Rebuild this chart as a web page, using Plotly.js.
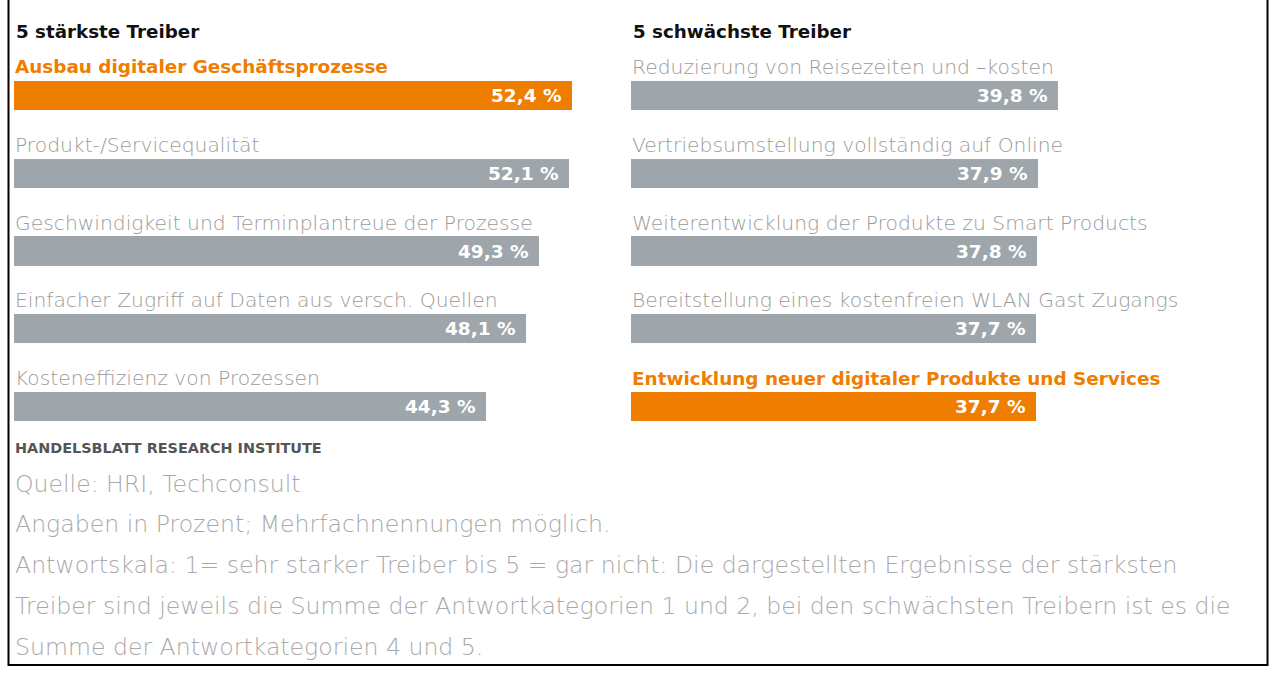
<!DOCTYPE html>
<html>
<head>
<meta charset="utf-8">
<script src="https://cdn.plot.ly/plotly-3.0.1.min.js"></script>
<style>
  html, body { margin: 0; padding: 0; background: #ffffff; }
  #chart { width: 1272px; height: 675px; }
</style>
</head>
<body>
<div id="chart"></div>
<script>
// Strongest drivers (sum of answer categories 1 and 2)
const strongLabels = [
  "Ausbau digitaler Geschäftsprozesse",
  "Produkt-/Servicequalität",
  "Geschwindigkeit und Terminplantreue der Prozesse",
  "Einfacher Zugriff auf Daten aus versch. Quellen",
  "Kosteneffizienz von Prozessen"
];
const strongValues = [52.4, 52.1, 49.3, 48.1, 44.3];

// Weakest drivers (sum of answer categories 4 and 5)
const weakLabels = [
  "Reduzierung von Reisezeiten und –kosten",
  "Vertriebsumstellung vollständig auf Online",
  "Weiterentwicklung der Produkte zu Smart Products",
  "Bereitstellung eines kostenfreien WLAN Gast Zugangs",
  "Entwicklung neuer digitaler Produkte und Services"
];
const weakValues = [39.8, 37.9, 37.8, 37.7, 37.7];

// Highlighted drivers
const strongHighlight = "Ausbau digitaler Geschäftsprozesse";
const weakHighlight = "Entwicklung neuer digitaler Produkte und Services";

const panelTitles = ["5 stärkste Treiber", "5 schwächste Treiber"];
const footerLines = [
  "Quelle: HRI, Techconsult",
  "Angaben in Prozent; Mehrfachnennungen möglich.",
  "Antwortskala: 1= sehr starker Treiber bis 5 = gar nicht: Die dargestellten Ergebnisse der stärksten",
  "Treiber sind jeweils die Summe der Antwortkategorien 1 und 2, bei den schwächsten Treibern ist es die",
  "Summe der Antwortkategorien 4 und 5."
];
const brand = "HANDELSBLATT RESEARCH INSTITUTE";

// ---- styling ----
const W = 1272, H = 675;
const ORANGE = "#ef7d00";
const GREY_BAR = "#9ea6ab";
const LABEL_GREY = "#9b9b9b";
const FOOT_GREY = "#a9a9a9";
const FONT = "'DejaVu Sans', 'Open Sans', sans-serif";
const px = v => v / W;
const py = v => 1 - v / H;
const fmt = v => v.toFixed(1).replace(".", ",") + " %";

// pixels per percentage point in each panel
const xMaxLeft = 600 / 10.65;
const xMaxRight = 600 / 10.74;
const yTop = 56.6, yBottom = 445.4;

function barTrace(labels, values, highlight, xa, ya) {
  return {
    type: "bar",
    orientation: "h",
    x: values,
    y: labels,
    xaxis: xa,
    yaxis: ya,
    width: 0.375,
    marker: { color: labels.map(l => l === highlight ? ORANGE : GREY_BAR), line: { width: 0 } },
    hoverinfo: "skip",
    showlegend: false
  };
}

const data = [
  barTrace(strongLabels, strongValues, strongHighlight, "x", "y"),
  barTrace(weakLabels, weakValues, weakHighlight, "x2", "y2")
];

const annotations = [];

function panelAnnotations(labels, values, highlight, xref, yref) {
  labels.forEach((lab, i) => {
    const hi = lab === highlight;
    annotations.push({
      xref: xref, yref: yref, x: 0, y: lab,
      xanchor: "left", yanchor: "middle", yshift: 28.5, xshift: -1.5,
      text: hi ? "<b>" + lab + "</b>" : lab,
      showarrow: false,
      font: { family: FONT, size: hi ? 18.4 : 20.3, color: hi ? ORANGE : LABEL_GREY, weight: hi ? 700 : 200 }
    });
    annotations.push({
      xref: xref, yref: yref, x: values[i], y: lab,
      xanchor: "right", yanchor: "middle", xshift: -8, yshift: 0,
      text: "<b>" + fmt(values[i]) + "</b>",
      showarrow: false,
      font: { family: FONT, size: 18.5, color: "#ffffff" }
    });
  });
}
panelAnnotations(strongLabels, strongValues, strongHighlight, "x", "y");
panelAnnotations(weakLabels, weakValues, weakHighlight, "x2", "y2");

// panel headings
[[13.5, panelTitles[0]], [630.5, panelTitles[1]]].forEach(([x, t]) => {
  annotations.push({
    xref: "paper", yref: "paper", x: px(x), y: py(31),
    xanchor: "left", yanchor: "middle", showarrow: false,
    text: "<b>" + t + "</b>",
    font: { family: FONT, size: 18.3, color: "#111111" }
  });
});

// brand line
annotations.push({
  xref: "paper", yref: "paper", x: px(13), y: py(448),
  xanchor: "left", yanchor: "middle", showarrow: false,
  text: "<b>" + brand + "</b>",
  font: { family: FONT, size: 14.4, color: "#555555" }
});

// footer notes
const footY = [484, 524, 565, 606, 647];
footerLines.forEach((t, i) => {
  annotations.push({
    xref: "paper", yref: "paper", x: px(13), y: py(footY[i]),
    xanchor: "left", yanchor: "middle", showarrow: false,
    text: t,
    font: { family: FONT, size: 23.6, color: FOOT_GREY, weight: 200 }
  });
});

const yAxisBase = {
  type: "category",
  autorange: false,
  range: [4.5, -0.5],
  showticklabels: false,
  showgrid: false,
  zeroline: false,
  showline: false,
  ticks: "",
  domain: [py(yBottom), py(yTop)],
  fixedrange: true
};
const xAxisBase = {
  showticklabels: false,
  showgrid: false,
  zeroline: false,
  showline: false,
  ticks: "",
  fixedrange: true
};

const layout = {
  width: W,
  height: H,
  margin: { l: 0, r: 0, t: 0, b: 0, pad: 0 },
  paper_bgcolor: "#ffffff",
  plot_bgcolor: "rgba(0,0,0,0)",
  bargap: 0,
  xaxis: Object.assign({}, xAxisBase, { range: [0, xMaxLeft], domain: [px(14), px(614)], anchor: "y" }),
  yaxis: Object.assign({}, yAxisBase, { anchor: "x", categoryarray: strongLabels }),
  xaxis2: Object.assign({}, xAxisBase, { range: [0, xMaxRight], domain: [px(631), px(1231)], anchor: "y2" }),
  yaxis2: Object.assign({}, yAxisBase, { anchor: "x2", categoryarray: weakLabels }),
  annotations: annotations,
  shapes: [
    {
      type: "rect", xref: "paper", yref: "paper",
      x0: px(8.5), x1: px(1267.5), y0: py(665), y1: py(-20),
      line: { color: "#000000", width: 2 }, fillcolor: "rgba(0,0,0,0)"
    }
  ]
};

Plotly.newPlot("chart", data, layout, { staticPlot: true, displayModeBar: false });
</script>
</body>
</html>
